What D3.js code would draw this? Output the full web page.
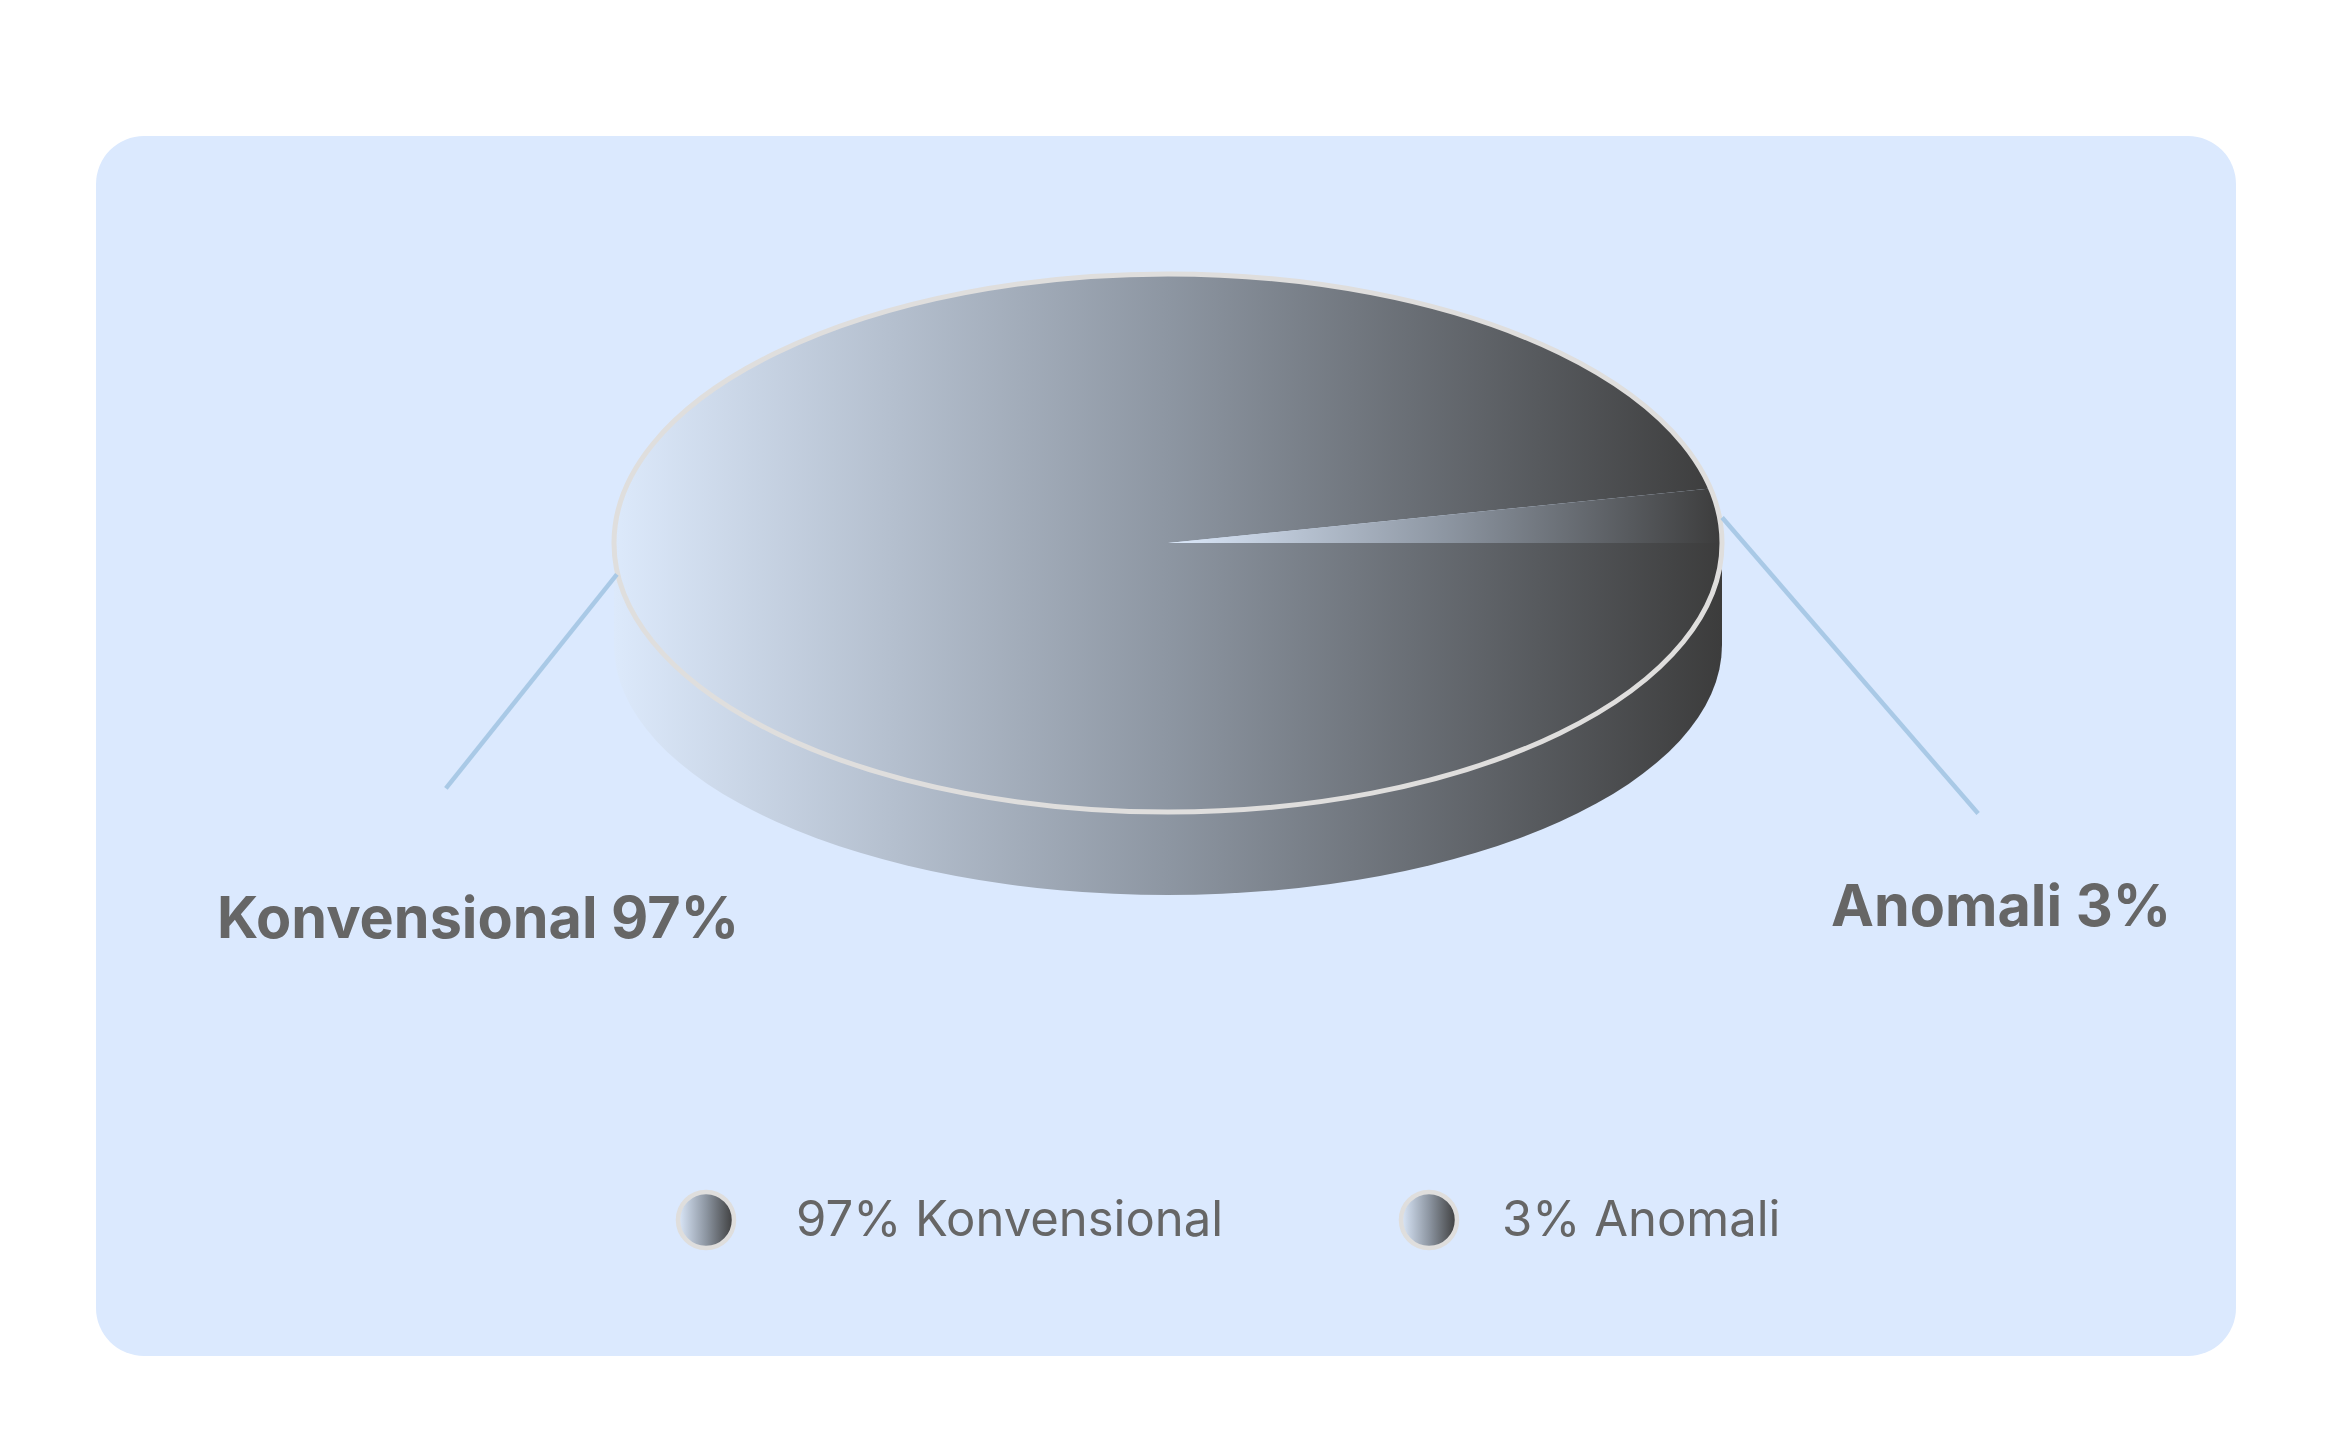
<!DOCTYPE html>
<html>
<head>
<meta charset="utf-8">
<script src="https://cdn.jsdelivr.net/npm/d3@7"></script>
<style>
    html, body { margin: 0; padding: 0; background: #fff; }
    svg { display: block; }
    text { font-family: Inter, "Noto Sans", sans-serif; fill: #666; }
</style>
</head>
<body>
<div id="chart"></div>
<script>
const categories = ["Konvensional", "Anomali"];
const shares = [97, 3];
const drawnShares = [96.75, 3.25];

const canvasWidth = 2334;
const canvasHeight = 1446;
const cx = 1168;
const cy = 543;
const rx = 554;
const ry = 269;
const depth = 102;
const bottomRy = 250;

const svg = d3.select("#chart").append("svg")
    .attr("width", canvasWidth)
    .attr("height", canvasHeight);

// gradient used by slices, rim and legend dots
const defs = svg.append("defs");
const grad = defs.append("linearGradient").attr("id", "shade");
grad.append("stop").attr("offset", "0%").attr("stop-color", "#dce9fb");
grad.append("stop").attr("offset", "50%").attr("stop-color", "#8d96a2");
grad.append("stop").attr("offset", "100%").attr("stop-color", "#3c3c3c");

// card
svg.append("rect")
    .attr("x", 96)
    .attr("y", 136)
    .attr("width", 2140)
    .attr("height", 1220)
    .attr("rx", 48)
    .attr("fill", "#dbe9fe");

// side of the disc
svg.append("path")
    .attr("d", "M" + (cx - rx) + "," + cy +
        "V" + (cy + depth) +
        "A" + rx + "," + bottomRy + " 0 0 0 " + (cx + rx) + "," + (cy + depth) +
        "V" + cy + "Z")
    .attr("fill", "url(#shade)");

// pie starts at 3 o'clock and runs clockwise, so the small slice ends just above it
const pie = d3.pie().sort(null)
    .startAngle(Math.PI / 2)
    .endAngle(Math.PI / 2 + 2 * Math.PI);
const slices = pie(drawnShares);
const arc = d3.arc().innerRadius(0).outerRadius(1);

const disc = svg.append("g")
    .attr("transform", "translate(" + cx + "," + cy + ") scale(" + rx + "," + ry + ")");

disc.selectAll("path")
    .data(slices)
    .enter()
    .append("path")
    .attr("d", arc)
    .attr("fill", "url(#shade)");

// rim
svg.append("ellipse")
    .attr("cx", cx)
    .attr("cy", cy)
    .attr("rx", rx)
    .attr("ry", ry)
    .attr("fill", "none")
    .attr("stroke", "#dfdedd")
    .attr("stroke-width", 5);

// leader lines leave the rim at each slice's middle angle
const leaderNudge = [[0, 4], [3, 2]];
const leaderOffset = [[-171, 214], [256, 296]];
const labelPos = [[217, 938], [1831, 926]];

function rimPoint(d, i) {
    const a = (d.startAngle + d.endAngle) / 2;
    return [cx + rx * Math.sin(a) + leaderNudge[i][0], cy - ry * Math.cos(a) + leaderNudge[i][1]];
}

svg.append("g").selectAll("line")
    .data(slices)
    .enter()
    .append("line")
    .attr("x1", (d, i) => rimPoint(d, i)[0])
    .attr("y1", (d, i) => rimPoint(d, i)[1])
    .attr("x2", (d, i) => rimPoint(d, i)[0] + leaderOffset[i][0])
    .attr("y2", (d, i) => rimPoint(d, i)[1] + leaderOffset[i][1])
    .attr("stroke", "#a9c9e6")
    .attr("stroke-width", 4.5);

svg.append("g").selectAll("text")
    .data(categories)
    .enter()
    .append("text")
    .attr("x", (d, i) => labelPos[i][0])
    .attr("y", (d, i) => labelPos[i][1])
    .style("font-size", "57.5px")
    .style("font-weight", "700")
    .text((d, i) => d + " " + shares[i] + "%");

// legend
const legendDotX = [706, 1429];
const legendTextX = [796, 1502];
const legendY = 1220;

const legend = svg.append("g").selectAll("g")
    .data(categories)
    .enter()
    .append("g");

legend.append("circle")
    .attr("cx", (d, i) => legendDotX[i])
    .attr("cy", legendY)
    .attr("r", 28)
    .attr("fill", "url(#shade)")
    .attr("stroke", "#dfdedd")
    .attr("stroke-width", 4.5);

legend.append("text")
    .attr("x", (d, i) => legendTextX[i])
    .attr("y", legendY + 16)
    .style("font-size", "49px")
    .style("font-weight", "400")
    .text((d, i) => shares[i] + "% " + d);
</script>
</body>
</html>
